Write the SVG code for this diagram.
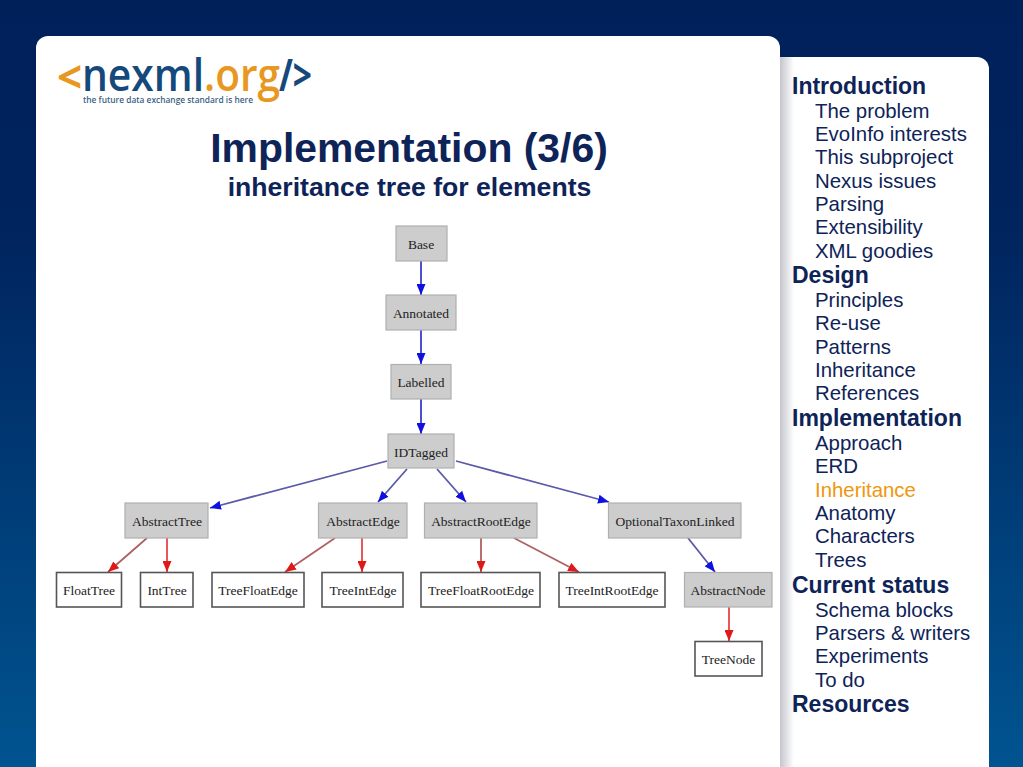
<svg xmlns="http://www.w3.org/2000/svg" width="1023" height="767" viewBox="0 0 1023 767">
<style>
.n{stroke:#b0b0b0;stroke-width:1.2;fill:#cdcdcd}
.w{stroke:#555;stroke-width:1.6;fill:#fff}
.l{font:13.500px "Liberation Serif",serif;fill:#222;text-anchor:middle}
.b{stroke:#2222cc;stroke-width:1.6;fill:none;marker-end:url(#ab)}
.bd{stroke:#5a5aa8;stroke-width:1.8;fill:none;marker-end:url(#ab)}
.r{stroke:#e02020;stroke-width:1.5;fill:none;marker-end:url(#ar)}
.rd{stroke:#b06060;stroke-width:1.8;fill:none;marker-end:url(#ar)}
.h{font:bold 23px "Liberation Sans",sans-serif;fill:#0e2358}
.s{font:20.400px "Liberation Sans",sans-serif;fill:#0e2358}
</style>
<defs>
<linearGradient id="bg" x1="0" y1="0" x2="0" y2="1"><stop offset="0" stop-color="#00205a"/><stop offset="0.3" stop-color="#00245e"/><stop offset="1" stop-color="#005490"/></linearGradient>
<linearGradient id="sh" x1="0" y1="0" x2="1" y2="0"><stop offset="0" stop-color="#c4c6cc"/><stop offset="1" stop-color="#fff"/></linearGradient>
<marker id="ab" markerUnits="userSpaceOnUse" markerWidth="12" markerHeight="9" refX="11" refY="4.500" orient="auto"><path d="M0 0L11 4.500L0 9z" fill="#1010e0"/></marker>
<marker id="ar" markerUnits="userSpaceOnUse" markerWidth="12" markerHeight="9" refX="11" refY="4.500" orient="auto"><path d="M0 0L11 4.500L0 9z" fill="#e01818"/></marker>
</defs>
<rect width="1023" height="767" fill="url(#bg)"/>
<path d="M770 57H977a12 12 0 0 1 12 12V767H770z" fill="#fff"/>
<rect x="780" y="57" width="14" height="710" fill="url(#sh)"/>
<path d="M36 767V48a12 12 0 0 1 12-12H768a12 12 0 0 1 12 12V767z" fill="#fff"/>
<g id="logo">
<text x="57" y="93" font-family="'Open Sans',sans-serif" font-weight="700" font-size="44" fill="#e8981f">&lt;</text>
<text x="82" y="91" font-family="'Open Sans',sans-serif" font-weight="600" font-size="46" fill="#15497c" textLength="122" lengthAdjust="spacingAndGlyphs">nexml</text>
<text x="204" y="91" font-family="'Open Sans',sans-serif" font-weight="600" font-size="46" fill="#e8981f" textLength="76" lengthAdjust="spacingAndGlyphs">.org</text>
<text x="279" y="91" font-family="'Open Sans',sans-serif" font-weight="700" font-size="44" fill="#15497c" textLength="33" lengthAdjust="spacingAndGlyphs">/&gt;</text>
<text x="83" y="103" font-family="'Open Sans',sans-serif" font-weight="600" font-size="8.500" fill="#3d5f85" textLength="170" lengthAdjust="spacingAndGlyphs">the future data exchange standard is here</text>
</g>
<text x="409" y="162" text-anchor="middle" font-family="'Liberation Sans',sans-serif" font-weight="bold" font-size="40.900" fill="#0e2358">Implementation (3/6)</text>
<text x="409.500" y="195.500" text-anchor="middle" font-family="'Liberation Sans',sans-serif" font-weight="bold" font-size="26.600" fill="#0e2358">inheritance tree for elements</text>
<g id="connectors">
<path class="b" d="M421 261V295"/>
<path class="b" d="M421 330V364"/>
<path class="b" d="M421 399V434"/>
<path class="bd" d="M387 461L210 508"/>
<path class="bd" d="M407 469L378 502"/>
<path class="bd" d="M437 469L466 502"/>
<path class="bd" d="M456 461L609 502"/>
<path class="rd" d="M147 538L108 572"/>
<path class="r" d="M167 538V572"/>
<path class="rd" d="M335 538L285 572"/>
<path class="r" d="M362 538V572"/>
<path class="rd" d="M481 538V572"/>
<path class="rd" d="M514 538L579 572"/>
<path class="bd" d="M688 538L715 572"/>
<path class="r" d="M729 607V641"/>
</g>
<g id="Base"><rect class="n" x="396" y="226" width="51" height="35"/><text class="l" x="421" y="249">Base</text></g>
<g id="Annotated"><rect class="n" x="386" y="295" width="70" height="35"/><text class="l" x="421" y="318">Annotated</text></g>
<g id="Labelled"><rect class="n" x="391" y="364.500" width="60" height="34.500"/><text class="l" x="421" y="387">Labelled</text></g>
<g id="IDTagged"><rect class="n" x="388" y="434" width="66" height="34"/><text class="l" x="421" y="457">IDTagged</text></g>
<g id="AbstractTree"><rect class="n" x="125" y="503" width="83" height="35"/><text class="l" x="167" y="526">AbstractTree</text></g>
<g id="AbstractEdge"><rect class="n" x="318.500" y="503" width="88.500" height="35"/><text class="l" x="363" y="526">AbstractEdge</text></g>
<g id="AbstractRootEdge"><rect class="n" x="424.500" y="503" width="112.500" height="35"/><text class="l" x="481" y="526">AbstractRootEdge</text></g>
<g id="OptionalTaxonLinked"><rect class="n" x="608.500" y="503" width="132.500" height="35"/><text class="l" x="675" y="526">OptionalTaxonLinked</text></g>
<g id="FloatTree"><rect class="w" x="56.500" y="572.500" width="65" height="34.500"/><text class="l" x="89" y="595">FloatTree</text></g>
<g id="IntTree"><rect class="w" x="140.500" y="572.500" width="52.500" height="34.500"/><text class="l" x="167" y="595">IntTree</text></g>
<g id="TreeFloatEdge"><rect class="w" x="212" y="572.500" width="92" height="34.500"/><text class="l" x="258" y="595">TreeFloatEdge</text></g>
<g id="TreeIntEdge"><rect class="w" x="322" y="572.500" width="81" height="34.500"/><text class="l" x="363" y="595">TreeIntEdge</text></g>
<g id="TreeFloatRootEdge"><rect class="w" x="421" y="572.500" width="119" height="34.500"/><text class="l" x="481" y="595">TreeFloatRootEdge</text></g>
<g id="TreeIntRootEdge"><rect class="w" x="559" y="572.500" width="106" height="34.500"/><text class="l" x="612" y="595">TreeIntRootEdge</text></g>
<g id="AbstractNode"><rect class="n" x="684.500" y="572.500" width="87.500" height="34.500"/><text class="l" x="728" y="595">AbstractNode</text></g>
<g id="TreeNode"><rect class="w" x="695" y="641.500" width="67" height="34.500"/><text class="l" x="728.500" y="664">TreeNode</text></g>
<g id="menu">
<text class="h" x="792" y="94">Introduction</text>
<text class="s" x="815" y="118">The problem</text>
<text class="s" x="815" y="141">EvoInfo interests</text>
<text class="s" x="815" y="164">This subproject</text>
<text class="s" x="815" y="188">Nexus issues</text>
<text class="s" x="815" y="211">Parsing</text>
<text class="s" x="815" y="234">Extensibility</text>
<text class="s" x="815" y="258">XML goodies</text>
<text class="h" x="792" y="283">Design</text>
<text class="s" x="815" y="307">Principles</text>
<text class="s" x="815" y="330">Re-use</text>
<text class="s" x="815" y="354">Patterns</text>
<text class="s" x="815" y="377">Inheritance</text>
<text class="s" x="815" y="400">References</text>
<text class="h" x="792" y="426">Implementation</text>
<text class="s" x="815" y="450">Approach</text>
<text class="s" x="815" y="473">ERD</text>
<text class="s" x="815" y="497" style="fill:#f0960f">Inheritance</text>
<text class="s" x="815" y="520">Anatomy</text>
<text class="s" x="815" y="543">Characters</text>
<text class="s" x="815" y="567">Trees</text>
<text class="h" x="792" y="592.500">Current status</text>
<text class="s" x="815" y="616.500">Schema blocks</text>
<text class="s" x="815" y="640">Parsers &amp; writers</text>
<text class="s" x="815" y="663">Experiments</text>
<text class="s" x="815" y="686.500">To do</text>
<text class="h" x="792" y="712">Resources</text>
</g>
</svg>
